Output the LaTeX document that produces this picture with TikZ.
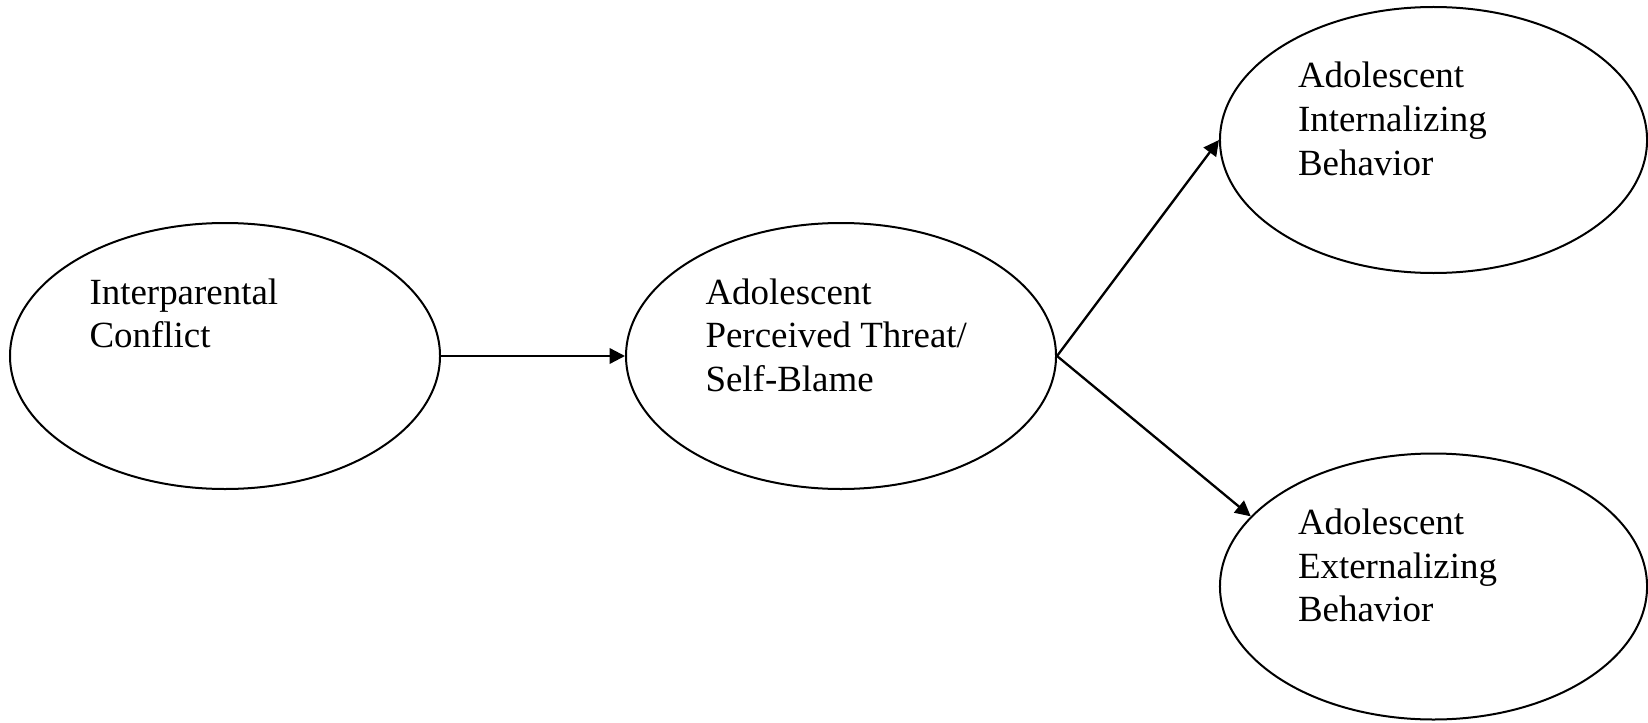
\documentclass[tikz,border=0pt]{standalone}
\usepackage{fontspec}
\setmainfont{Liberation Serif}
\usetikzlibrary{shapes.geometric,arrows.meta}
\newcommand{\lienhorz}[2]{\draw[->] (#1.east) -- (#2.west);}
\newcommand{\lienobli}[2]{\draw[->] (#1) -- (#2);}
\tikzset{
		ovale/.style={draw, ellipse, line width=0.65pt, inner sep=0pt, minimum width=139.75pt, minimum height=86.45pt},
		ovaldroi/.style={ovale, minimum width=138.8pt},
		texte/.style={anchor=base west, text width=110pt, align=flush left, inner sep=0pt, xshift=-44.4pt, yshift=16.9pt},
		>={Triangle[length=5pt,width=5pt]}
	}
\begin{document}
\begin{tikzpicture}[x=0.325pt, y=-0.325pt, line width=0.75pt]
		\fontsize{12}{14.2} \selectfont
		\useasboundingbox (0,0) rectangle (1648,722);
		% ellipses
		\node[ovale](intpconf) at (225,356) {};
		\node[ovale](percmena) at (841,356) {};
		\node[ovaldroi](intebehv) at (1433.5,140) {};
		\node[ovaldroi](extebehv) at (1433.5,586.5) {};
		% textes
		\node[texte](intpconftx) at (intpconf.center) {Interparental\\Conflict};
		\node[texte](percmenatx) at (percmena.center) {Adolescent\\Perceived Threat/\\Self-Blame};
		\node[texte](intebehvtx) at (intebehv.center) {Adolescent\\Internalizing\\Behavior};
		\node[texte](extebehvtx) at (extebehv.center) {Adolescent\\Externalizing\\Behavior};
		
		% Liens
		\lienhorz{intpconf}{percmena}
		\lienhorz{percmena}{intebehv}
		\lienobli{percmena.east}{extebehv.159}
	\end{tikzpicture}
\end{document}
